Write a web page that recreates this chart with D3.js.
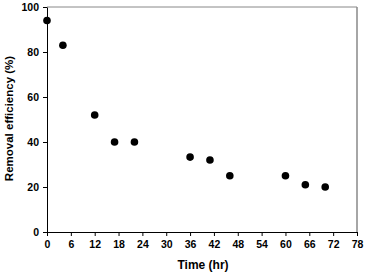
<!DOCTYPE html>
<html>
<head>
<meta charset="utf-8">
<script src="https://cdn.jsdelivr.net/npm/d3@7"></script>
<style>
    body { margin: 0; background: #fff; }
    text { font-family: "Liberation Sans", Arial, sans-serif; font-weight: bold; }
</style>
</head>
<body>
<div id="chart"></div>
<script>
const timeHr = [0, 4, 12, 17, 22, 36, 41, 46, 60, 65, 70];
const removal = [94, 83, 52, 40, 40, 33.3, 32, 25, 25, 21, 20];
const xTicks = [0, 6, 12, 18, 24, 30, 36, 42, 48, 54, 60, 66, 72, 78];
const yTicks = [0, 20, 40, 60, 80, 100];

let width = 365;
let height = 273;
let margin = {top: 7, right: 8, bottom: 41, left: 47};

let svg = d3.select('#chart')
    .append('svg')
    .attr('width', width)
    .attr('height', height);

let innerW = width - margin.left - margin.right;
let innerH = height - margin.top - margin.bottom;

let chart = svg.append('g')
    .attr('transform', `translate(${margin.left},${margin.top})`);

let xScale = d3.scaleLinear().domain([0, 78]).range([0, innerW]);
let yScale = d3.scaleLinear().domain([0, 100]).range([innerH, 0]);

// frame top / right
chart.append('line')
    .attr('x1', 0).attr('x2', innerW).attr('y1', 0).attr('y2', 0)
    .attr('stroke', '#888').attr('stroke-width', 1);
chart.append('line')
    .attr('x1', innerW).attr('x2', innerW).attr('y1', 0).attr('y2', innerH)
    .attr('stroke', '#888').attr('stroke-width', 1.5);

// x axis
let xAxis = chart.append('g')
    .attr('transform', `translate(0,${innerH})`)
    .call(d3.axisBottom(xScale).tickValues(xTicks).tickSize(4).tickPadding(5).tickSizeOuter(0));

// y axis
let yAxis = chart.append('g')
    .call(d3.axisLeft(yScale).tickValues(yTicks).tickSize(4).tickPadding(4).tickSizeOuter(0));

[xAxis, yAxis].forEach(a => {
    a.select('.domain').attr('stroke', '#000').attr('stroke-width', 1);
    a.selectAll('.tick line').attr('stroke', '#000');
    a.selectAll('.tick text')
        .attr('fill', '#000')
        .style('font-size', '10.5px')
        .style('font-family', '"Liberation Sans", Arial, sans-serif')
        .style('font-weight', 'bold');
});

// points
chart.selectAll('.pt')
    .data(timeHr)
    .enter()
    .append('circle')
    .attr('class', 'pt')
    .attr('cx', d => xScale(d))
    .attr('cy', (d, i) => yScale(removal[i]))
    .attr('r', 3.8)
    .attr('fill', '#000');

// axis titles
svg.append('text')
    .attr('x', 203)
    .attr('y', 269)
    .attr('text-anchor', 'middle')
    .style('font-size', '12px')
    .text('Time (hr)');

svg.append('text')
    .attr('transform', 'rotate(-90)')
    .attr('x', -118.5)
    .attr('y', 9)
    .attr('dy', '0.35em')
    .attr('text-anchor', 'middle')
    .style('font-size', '11.5px')
    .text('Removal efficiency (%)');
</script>
</body>
</html>
